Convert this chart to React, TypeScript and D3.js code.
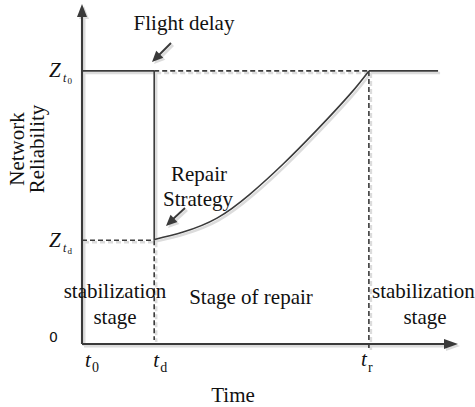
import React from "react";
import * as d3 from "d3";

const W = 475;
const H = 407;

// abstract time units and reliability values
const timeLabels = ["t0", "td", "tr"];
const tD = 19.2;
const tR = 76.3;
const tEnd = 94.7;
const tAxisMax = 100;
const zT0 = 1;
const zTd = 0.38;
const yAxisMax = 1.245;
const repairT = [19.3, 26.9, 35.9, 44.7, 53.5, 62.5, 71.3, 76.3];
const repairZ = [0.383, 0.41, 0.461, 0.549, 0.659, 0.784, 0.915, 1];

const x = d3.scaleLinear().domain([0, tAxisMax]).range([82, 458]);
const y = d3.scaleLinear().domain([0, yAxisMax]).range([344, 4]);

const serif = "'Liberation Serif', 'DejaVu Serif', serif";
const dark = "#3a3a3a";
const shadow = "#dcdcdc";

function arrowHead(x1: number, y1: number, x2: number, y2: number, len: number, wid: number) {
  const a = Math.atan2(y2 - y1, x2 - x1);
  const bx = x2 - len * Math.cos(a);
  const by = y2 - len * Math.sin(a);
  const px = -Math.sin(a) * wid / 2;
  const py = Math.cos(a) * wid / 2;
  return `M${x2},${y2}L${bx + px},${by + py}L${bx - px},${by - py}Z`;
}

function Lines({ color, sw }: { color: string; sw: number }) {
  const line = d3
    .line<number>()
    .x((_, i) => x(repairT[i]))
    .y((d) => y(d))
    .curve(d3.curveNatural);
  const dash = "5,3";
  return (
    <g fill="none" stroke={color}>
      {/* axes */}
      <line x1={x(0)} y1={y(0)} x2={x(0)} y2={y(yAxisMax) + 8} strokeWidth={sw + 0.5} />
      <line x1={x(0)} y1={y(0)} x2={x(tAxisMax) - 8} y2={y(0)} strokeWidth={sw + 0.5} />
      {/* top solid segments */}
      <line x1={x(0)} y1={y(zT0)} x2={x(tD)} y2={y(zT0)} strokeWidth={sw} />
      <line x1={x(tR)} y1={y(zT0)} x2={x(tEnd)} y2={y(zT0)} strokeWidth={sw} />
      {/* drop */}
      <line x1={x(tD)} y1={y(zT0)} x2={x(tD)} y2={y(zTd)} strokeWidth={sw} />
      {/* dashed guides */}
      <line x1={x(tD)} y1={y(zT0)} x2={x(tR)} y2={y(zT0)} strokeWidth={sw} strokeDasharray={dash} />
      <line x1={x(0)} y1={y(zTd)} x2={x(tD)} y2={y(zTd)} strokeWidth={sw} strokeDasharray={dash} />
      <line x1={x(tD)} y1={y(zTd)} x2={x(tD)} y2={y(0) - 4} strokeWidth={sw} strokeDasharray={dash} />
      <line x1={x(tR)} y1={y(zT0)} x2={x(tR)} y2={y(0) + 4} strokeWidth={sw} strokeDasharray={dash} />
      {/* repair curve */}
      <path d={line(repairZ) || ""} strokeWidth={sw} />
      {/* annotation arrow lines */}
      <line x1={171} y1={43} x2={158} y2={56} strokeWidth={sw + 0.3} />
      <line x1={185} y1={208} x2={172} y2={220} strokeWidth={sw + 0.3} />
    </g>
  );
}

function Heads({ color }: { color: string }) {
  return (
    <g fill={color} stroke="none">
      <path d={arrowHead(x(0), 40, x(0), y(yAxisMax), 13, 10)} />
      <path d={arrowHead(300, y(0), x(tAxisMax), y(0), 14, 10)} />
      <path d={arrowHead(171, 43, 152, 62, 11, 10)} />
      <path d={arrowHead(185, 208, 166, 226, 11, 10)} />
    </g>
  );
}

export default function App() {
  return (
    <svg width={W} height={H} style={{ position: "absolute", left: 0, top: 0, background: "#fff" }}>
      <g transform="translate(2,2)">
        <Lines color={shadow} sw={2.5} />
        <Heads color={shadow} />
      </g>
      <Lines color={dark} sw={1.6} />
      <Heads color={dark} />

      <g style={{ fontFamily: serif }} fill="#111" fontSize={21}>
        <text x={184} y={30} textAnchor="middle">Flight delay</text>
        <text x={199} y={181} textAnchor="middle">Repair</text>
        <text x={198} y={206} textAnchor="middle">Strategy</text>
        <text x={115} y={298} textAnchor="middle">stabilization</text>
        <text x={115} y={324} textAnchor="middle">stage</text>
        <text x={251} y={304} textAnchor="middle">Stage of repair</text>
        <text x={372} y={298}>stabilization</text>
        <text x={425} y={324} textAnchor="middle">stage</text>
        <text x={233} y={402} textAnchor="middle">Time</text>
        <text transform="translate(24,149) rotate(-90)" textAnchor="middle">Network</text>
        <text transform="translate(44,149) rotate(-90)" textAnchor="middle">Reliability</text>

        {/* y labels */}
        <text x={49} y={y(zT0) + 6} fontStyle="italic">Z</text>
        <text x={63} y={y(zT0) + 11} fontStyle="italic" fontSize={12}>t</text>
        <text x={67.5} y={y(zT0) + 13} fontSize={9}>0</text>
        <text x={49} y={y(zTd) + 7} fontStyle="italic">Z</text>
        <text x={63} y={y(zTd) + 12} fontStyle="italic" fontSize={12}>t</text>
        <text x={67.5} y={y(zTd) + 14} fontSize={9}>d</text>

        {/* x labels */}
        <text x={x(0) + 3} y={367} fontStyle="italic">t</text>
        <text x={x(0) + 10} y={372} fontSize={14}>0</text>
        <text x={x(tD) - 1} y={367} fontStyle="italic">t</text>
        <text x={x(tD) + 6} y={372} fontSize={14}>d</text>
        <text x={x(tR) - 8} y={366} fontStyle="italic">t</text>
        <text x={x(tR) - 1} y={372} fontSize={14}>r</text>
      </g>
      <text x={49} y={342} fontFamily="'DejaVu Sans', sans-serif" fontSize={14} fill="#111">0</text>
      <desc>{timeLabels.join(",")}</desc>
    </svg>
  );
}
